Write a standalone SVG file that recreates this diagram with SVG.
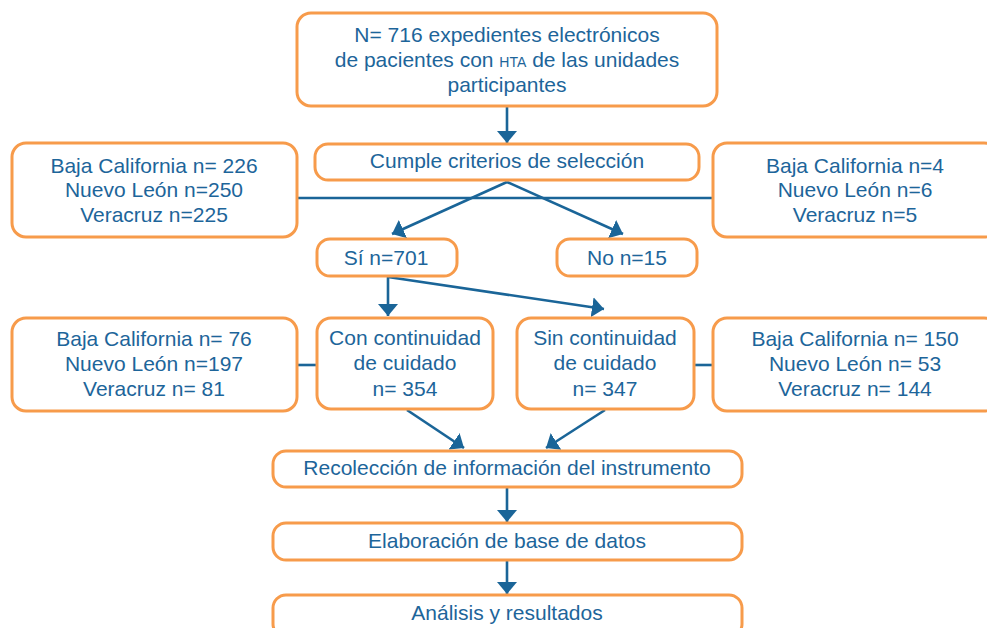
<svg xmlns="http://www.w3.org/2000/svg" width="987" height="628" viewBox="0 0 987 628">
<style>
.box{fill:#ffffff;stroke:#F79B4B;stroke-width:3}
.t{font-family:"Liberation Sans",Arial,sans-serif;font-size:21px;fill:#1D659A;text-anchor:middle}
.c{stroke:#1A6598;stroke-width:2.6;fill:none}
.a{marker-end:url(#ah)}
</style>
<defs>
<marker id="ah" viewBox="0 0 12 20" refX="12" refY="10" markerWidth="12" markerHeight="20" markerUnits="userSpaceOnUse" orient="auto">
<path d="M0,0 L12,10 L0,20 z" fill="#1A6598"/>
</marker>
</defs>
<rect width="987" height="628" fill="#ffffff"/>
<g id="connectors">
<line class="c" x1="297" y1="198" x2="713" y2="198"/>
<line class="c a" x1="507" y1="107" x2="507" y2="143"/>
<line class="c a" x1="507" y1="182" x2="392" y2="234"/>
<line class="c a" x1="507" y1="182" x2="623" y2="234"/>
<line class="c a" x1="388" y1="277" x2="388" y2="316"/>
<line class="c a" x1="388" y1="277" x2="604" y2="309"/>
<line class="c" x1="297" y1="365" x2="317" y2="365"/>
<line class="c" x1="694" y1="365" x2="713" y2="365"/>
<line class="c a" x1="407" y1="410" x2="464" y2="448"/>
<line class="c a" x1="605" y1="410" x2="546" y2="448"/>
<line class="c a" x1="507" y1="488" x2="507" y2="522"/>
<line class="c a" x1="507" y1="561" x2="507" y2="594"/>
</g>
<g id="n-total">
<rect class="box" x="297" y="13" width="420" height="93" rx="14"/>
<text class="t" x="507" y="42">N= 716 expedientes electrónicos</text>
<text class="t" x="507" y="67">de pacientes con <tspan font-size="14">HTA</tspan> de las unidades</text>
<text class="t" x="507" y="92">participantes</text>
</g>
<g id="n-criterios">
<rect class="box" x="315" y="144" width="384" height="36" rx="13"/>
<text class="t" x="507" y="168">Cumple criterios de selección</text>
</g>
<g id="n-left1">
<rect class="box" x="12" y="143" width="285" height="94" rx="14"/>
<text class="t" x="154" y="173">Baja California n= 226</text>
<text class="t" x="154" y="197">Nuevo León n=250</text>
<text class="t" x="154" y="222">Veracruz n=225</text>
</g>
<g id="n-right1">
<rect class="box" x="713" y="143" width="285" height="94" rx="14"/>
<text class="t" x="855" y="173">Baja California n=4</text>
<text class="t" x="855" y="197">Nuevo León n=6</text>
<text class="t" x="855" y="222">Veracruz n=5</text>
</g>
<g id="n-si">
<rect class="box" x="317" y="239" width="140" height="37" rx="13"/>
<text class="t" x="386" y="265">Sí n=701</text>
</g>
<g id="n-no">
<rect class="box" x="557" y="239" width="140" height="37" rx="13"/>
<text class="t" x="627" y="265">No n=15</text>
</g>
<g id="n-left2">
<rect class="box" x="12" y="318" width="285" height="93" rx="14"/>
<text class="t" x="154" y="346">Baja California n= 76</text>
<text class="t" x="154" y="371">Nuevo León n=197</text>
<text class="t" x="154" y="396">Veracruz n= 81</text>
</g>
<g id="n-con">
<rect class="box" x="317" y="318" width="176" height="91" rx="14"/>
<text class="t" x="405" y="345">Con continuidad</text>
<text class="t" x="405" y="370">de cuidado</text>
<text class="t" x="405" y="396">n= 354</text>
</g>
<g id="n-sin">
<rect class="box" x="517" y="318" width="177" height="91" rx="14"/>
<text class="t" x="605" y="345">Sin continuidad</text>
<text class="t" x="605" y="370">de cuidado</text>
<text class="t" x="605" y="396">n= 347</text>
</g>
<g id="n-right2">
<rect class="box" x="713" y="318" width="285" height="93" rx="14"/>
<text class="t" x="855" y="346">Baja California n= 150</text>
<text class="t" x="855" y="371">Nuevo León n= 53</text>
<text class="t" x="855" y="396">Veracruz n= 144</text>
</g>
<g id="n-recoleccion">
<rect class="box" x="273" y="451" width="469" height="36" rx="13"/>
<text class="t" x="507" y="475">Recolección de información del instrumento</text>
</g>
<g id="n-elaboracion">
<rect class="box" x="273" y="523" width="469" height="37" rx="13"/>
<text class="t" x="507" y="548">Elaboración de base de datos</text>
</g>
<g id="n-analisis">
<rect class="box" x="273" y="595" width="469" height="42" rx="13"/>
<text class="t" x="507" y="620">Análisis y resultados</text>
</g>
</svg>
